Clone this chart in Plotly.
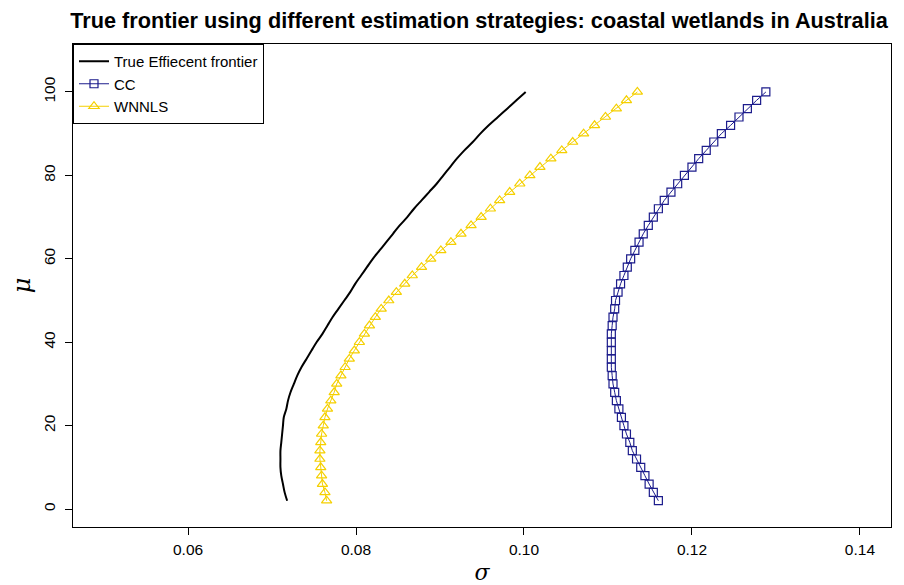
import plotly.graph_objects as go

mu = list(range(2, 101, 2))

sigma_true = [0.0718, 0.0715, 0.0713, 0.0711, 0.0710, 0.0710, 0.0710, 0.0711, 0.0712, 0.0713,
              0.0714, 0.0717, 0.0719, 0.0722, 0.0726, 0.0730, 0.0735, 0.0741, 0.0747, 0.0753,
              0.0760, 0.0766, 0.0772, 0.0779, 0.0786, 0.0793, 0.0799, 0.0806, 0.0813, 0.0820,
              0.0828, 0.0836, 0.0844, 0.0852, 0.0861, 0.0869, 0.0878, 0.0887, 0.0896, 0.0904,
              0.0912, 0.0920, 0.0929, 0.0939, 0.0948, 0.0958, 0.0969, 0.0980, 0.0991, 0.1002]

sigma_cc = [0.1160, 0.1154, 0.1149, 0.1144, 0.1139, 0.1134, 0.1129, 0.1126, 0.1122, 0.1119,
            0.1116, 0.1113, 0.1110, 0.1108, 0.1106, 0.1105, 0.1104, 0.1104, 0.1104, 0.1104,
            0.1104, 0.1105, 0.1106, 0.1108, 0.1109, 0.1112, 0.1115, 0.1119, 0.1123, 0.1127,
            0.1132, 0.1137, 0.1142, 0.1148, 0.1154, 0.1160, 0.1167, 0.1175, 0.1183, 0.1191,
            0.1200, 0.1208, 0.1217, 0.1226, 0.1235, 0.1246, 0.1256, 0.1266, 0.1277, 0.1288]

sigma_wnnls = [0.0765, 0.0763, 0.0760, 0.0759, 0.0758, 0.0757, 0.0757, 0.0758, 0.0759, 0.0761,
               0.0763, 0.0766, 0.0770, 0.0774, 0.0777, 0.0782, 0.0787, 0.0792, 0.0798, 0.0804,
               0.0810, 0.0816, 0.0823, 0.0830, 0.0839, 0.0848, 0.0858, 0.0867, 0.0878, 0.0889,
               0.0901, 0.0913, 0.0925, 0.0937, 0.0949, 0.0960, 0.0971, 0.0983, 0.0995, 0.1007,
               0.1019, 0.1032, 0.1045, 0.1058, 0.1071, 0.1084, 0.1097, 0.1110, 0.1122, 0.1135]

x_ticks = [0.06, 0.08, 0.10, 0.12, 0.14]
y_ticks = [0, 20, 40, 60, 80, 100]

FONT = "Liberation Sans, Arial, sans-serif"

fig = go.Figure()
fig.add_trace(go.Scatter(x=sigma_true, y=mu, mode="lines", name="True Effiecent frontier",
                         line=dict(color="black", width=2, shape="spline", smoothing=1.0)))
fig.add_trace(go.Scatter(x=sigma_cc, y=mu, mode="lines+markers", name="CC",
                         line=dict(color="#1c1c8c", width=1),
                         marker=dict(symbol="square-open", size=8,
                                     line=dict(color="#4646b0", width=1.2))))
fig.add_trace(go.Scatter(x=sigma_wnnls, y=mu, mode="lines+markers", name="WNNLS",
                         line=dict(color="#f5d000", width=1),
                         marker=dict(symbol="triangle-up-open", size=9,
                                     line=dict(color="#f7d51c", width=1.2))))

# the page body adds an 8px offset, so the figure is 8px smaller than the window
fig.update_layout(
    width=896, height=577,
    margin=dict(l=65, r=13, t=36, b=58, autoexpand=False),
    paper_bgcolor="white", plot_bgcolor="white",
    font=dict(family=FONT, size=15.5, color="black"),
    title=dict(text="<b>True frontier using different estimation strategies: coastal wetlands in Australia</b>",
               x=0.5257, xanchor="center", y=0.978, yanchor="middle",
               font=dict(family=FONT, size=21.7, color="black")),
    showlegend=True,
    legend=dict(x=0, y=1, xanchor="left", yanchor="top",
                bordercolor="black", borderwidth=1, bgcolor="white",
                font=dict(family=FONT, size=15, color="black"),
                tracegroupgap=0, itemwidth=30),
    xaxis=dict(range=[0.0463, 0.1437], tickvals=x_ticks, tickformat=".2f",
               showgrid=False, zeroline=False, showline=True, mirror=True,
               linecolor="black", linewidth=1, ticks="outside", ticklen=7,
               tickcolor="black", ticklabelstandoff=1, automargin=False,
               title=dict(text="<i>σ</i>", font=dict(family="DejaVu Serif, serif", size=22), standoff=15)),
    yaxis=dict(range=[-4.3, 111.5], tickvals=y_ticks, tickangle=-90,
               showgrid=False, zeroline=False, showline=True, mirror=True,
               linecolor="black", linewidth=1, ticks="outside", ticklen=7,
               tickcolor="black", ticklabelstandoff=4, automargin=False,
               title=dict(text="<i>μ</i>", font=dict(family="DejaVu Serif, serif", size=24), standoff=10)),
)

fig.write_html("out.html")
